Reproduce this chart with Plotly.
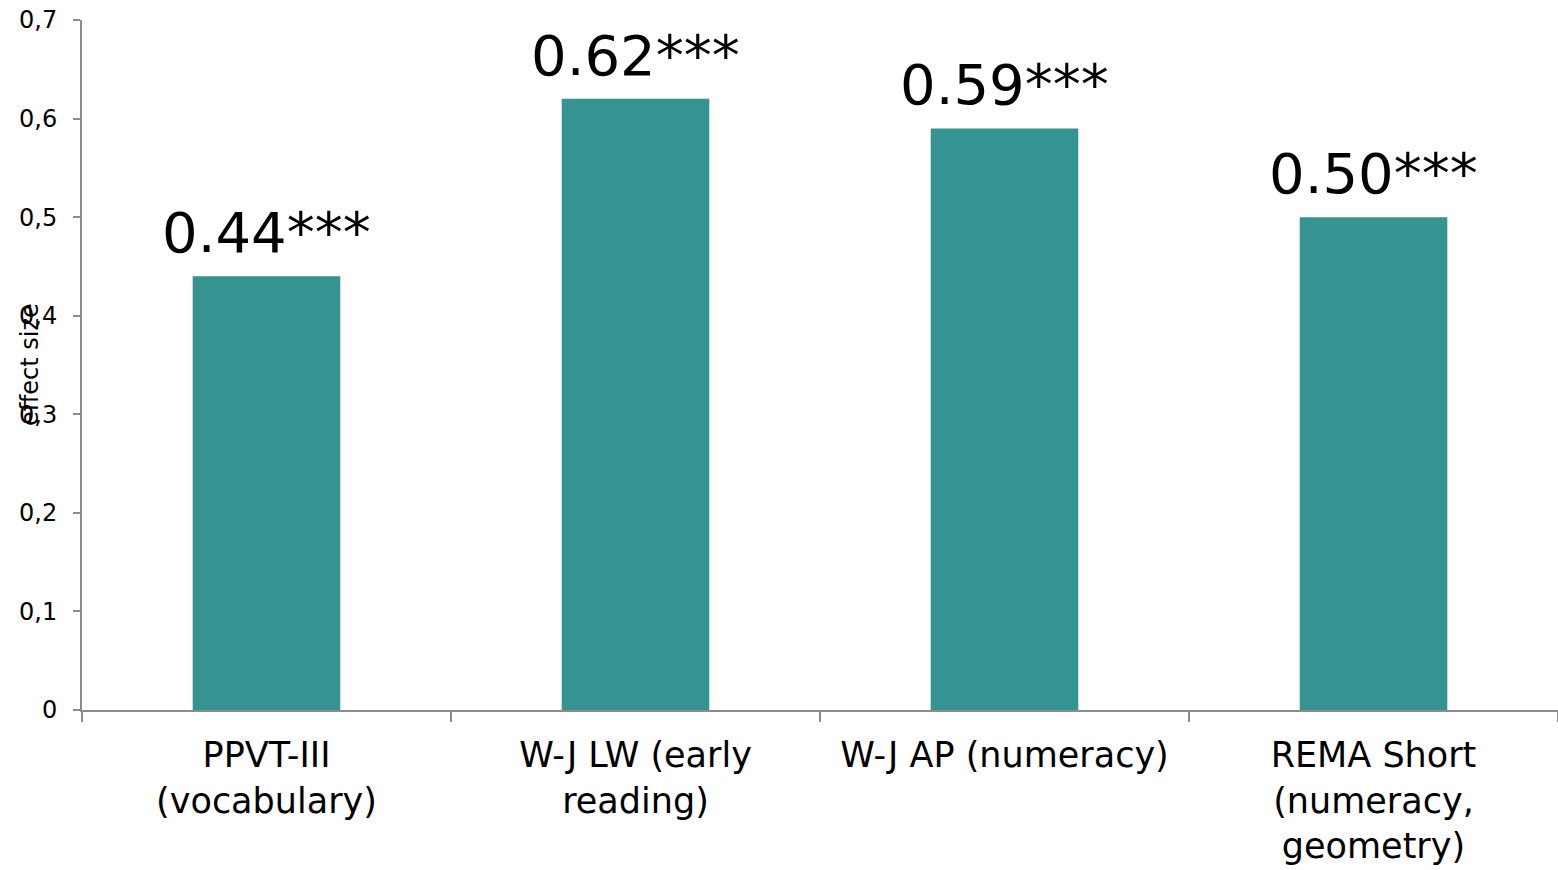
import plotly.graph_objects as go

# Effect sizes per assessment
categories = [
    "PPVT-III<br>(vocabulary)",
    "W-J LW (early<br>reading)",
    "W-J AP (numeracy)",
    "REMA Short<br>(numeracy,<br>geometry)",
]
effect_sizes = [0.44, 0.62, 0.59, 0.50]
significance = ["***", "***", "***", "***"]

y_tick_values = [0, 0.1, 0.2, 0.3, 0.4, 0.5, 0.6, 0.7]
y_tick_labels = ["0", "0,1", "0,2", "0,3", "0,4", "0,5", "0,6", "0,7"]

FONT = "DejaVu Sans"
BAR_COLOR = "#359491"
AXIS_COLOR = "#8c8c8c"

fig = go.Figure()
fig.add_trace(go.Bar(
    x=categories,
    y=effect_sizes,
    width=0.4,
    marker=dict(color=BAR_COLOR, line=dict(width=0)),
    hoverinfo="skip",
))

# Value labels above each bar
for cat, val, sig in zip(categories, effect_sizes, significance):
    fig.add_annotation(
        x=cat, y=val, xref="x", yref="y",
        text=f"{val:.2f}{sig}",
        showarrow=False,
        xanchor="center", yanchor="bottom",
        yshift=9,
        font=dict(family=FONT, size=56, color="#000000"),
    )

# Axis title drawn over the tick labels
fig.add_annotation(
    x=0, y=0.5, xref="paper", yref="paper",
    xshift=-52,
    text="effect size",
    textangle=-90,
    showarrow=False,
    xanchor="center", yanchor="middle",
    font=dict(family=FONT, size=24, color="#000000"),
)

fig.update_layout(
    width=1558, height=870,
    margin=dict(l=82, r=0, t=20, b=160, autoexpand=False),
    paper_bgcolor="white",
    plot_bgcolor="white",
    showlegend=False,
    bargap=0.6,
    font=dict(family=FONT, color="#000000"),
)

fig.update_xaxes(
    type="category",
    automargin=False,
    showline=True, linecolor=AXIS_COLOR, linewidth=2,
    ticks="outside", tickson="boundaries", ticklen=10,
    tickcolor=AXIS_COLOR, tickwidth=2,
    tickfont=dict(family=FONT, size=35, color="#000000"),
    ticklabelstandoff=13,
    showgrid=False, zeroline=False,
)

fig.update_yaxes(
    range=[0, 0.7],
    automargin=False,
    tickvals=y_tick_values,
    ticktext=y_tick_labels,
    showline=True, linecolor=AXIS_COLOR, linewidth=2,
    ticks="outside", ticklen=7, tickcolor=AXIS_COLOR, tickwidth=2,
    tickfont=dict(family=FONT, size=24, color="#000000"),
    ticklabelstandoff=11,
    showgrid=False, zeroline=False,
)

fig.write_html("out.html")
